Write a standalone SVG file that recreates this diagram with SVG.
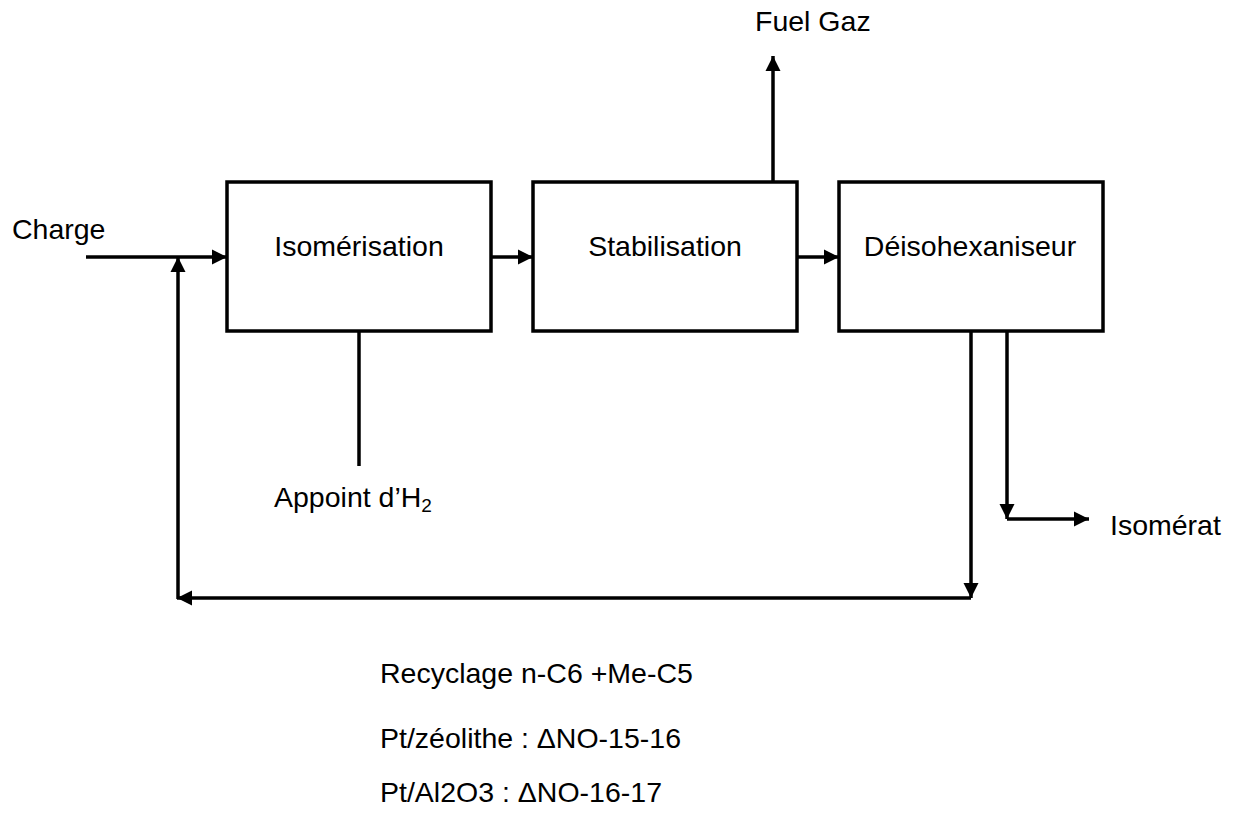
<svg xmlns="http://www.w3.org/2000/svg" width="1236" height="816" viewBox="0 0 1236 816">
<style>
  .box { fill: #ffffff; stroke: #000000; stroke-width: 3.5; }
  .line { fill: none; stroke: #000000; stroke-width: 3.5; }
  .arrow { fill: none; stroke: #000000; stroke-width: 3.5; marker-end: url(#ah); }
  text { font-family: "Liberation Sans", Arial, sans-serif; font-size: 28.5px; fill: #000000; }
  .c { text-anchor: middle; }
</style>
<defs>
  <marker id="ah" markerUnits="userSpaceOnUse" markerWidth="16" markerHeight="16" viewBox="0 0 16 16" refX="15" refY="8" orient="auto">
    <path d="M0,0.5 L15,8 L0,15.5 Z" fill="#000000"/>
  </marker>
</defs>
<rect width="1236" height="816" fill="#ffffff"/>
<g id="connectors">
  <line class="arrow" x1="86" y1="257" x2="227" y2="257"/>
  <line class="arrow" x1="491" y1="257" x2="533" y2="257"/>
  <line class="arrow" x1="797" y1="257" x2="839" y2="257"/>
  <line class="arrow" x1="773" y1="182" x2="773" y2="56"/>
  <line class="line" x1="359" y1="331" x2="359" y2="466"/>
  <line class="arrow" x1="1007" y1="331" x2="1007" y2="519"/>
  <line class="arrow" x1="1007" y1="519" x2="1089" y2="519"/>
  <line class="arrow" x1="971" y1="331" x2="971" y2="598"/>
  <line class="arrow" x1="971" y1="598" x2="177" y2="598"/>
  <line class="arrow" x1="178" y1="599" x2="178" y2="257"/>
</g>
<g id="isomerisation">
  <rect class="box" x="227" y="182" width="264" height="149"/>
  <text class="c" x="359" y="256">Isomérisation</text>
</g>
<g id="stabilisation">
  <rect class="box" x="533" y="182" width="264" height="149"/>
  <text class="c" x="665" y="256">Stabilisation</text>
</g>
<g id="deisohexaniseur">
  <rect class="box" x="839" y="182" width="264" height="149"/>
  <text class="c" x="970" y="256">Déisohexaniseur</text>
</g>
<g id="labels">
  <text x="12" y="239">Charge</text>
  <text x="755" y="31">Fuel Gaz</text>
  <text x="274" y="507">Appoint d’H<tspan font-size="19" dy="5">2</tspan></text>
  <text x="1110" y="535">Isomérat</text>
  <text x="380" y="683">Recyclage n-C6 +Me-C5</text>
  <text x="380" y="748">Pt/zéolithe : ΔNO-15-16</text>
  <text x="380" y="802">Pt/Al2O3 : ΔNO-16-17</text>
</g>
</svg>
